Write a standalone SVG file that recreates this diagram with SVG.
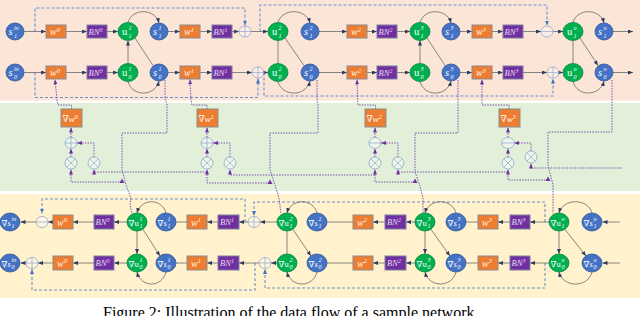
<svg xmlns="http://www.w3.org/2000/svg" width="640" height="316" viewBox="0 0 640 316">
<style>
.s{fill:#4472C4;stroke:#2F5597;stroke-width:0.8}
.u{fill:#00B050;stroke:#00843C;stroke-width:0.8}
.w{fill:#ED7D31;stroke:#8C8C8C;stroke-width:1}
.bn{fill:#7030A0;stroke:#7F7F9F;stroke-width:1}
.op{fill:#FFFFFF;fill-opacity:0.35;stroke:#8FA8D2;stroke-width:0.8}
.opl{stroke:#8FA8D2;stroke-width:0.7;fill:none}
.ln{stroke:#6A6A6A;stroke-width:0.8;fill:none}
.la{stroke:#6A6A6A;stroke-width:0.8;fill:none;marker-end:url(#ah)}
.dash{stroke:#6F8FD3;stroke-width:1.1;stroke-dasharray:3 2;fill:none}
.dasha{stroke:#6F8FD3;stroke-width:1.1;stroke-dasharray:3 2;fill:none;marker-end:url(#ab)}
.dot{stroke:#7B55B3;stroke-width:1;stroke-dasharray:1.5 1.2;fill:none}
.dota{stroke:#7B55B3;stroke-width:1;stroke-dasharray:1.5 1.2;fill:none;marker-end:url(#ap)}
.m{font-family:"Liberation Serif","DejaVu Serif",serif;font-style:italic;font-size:10.5px;fill:#FFFFFF}
.mu{font-family:"Liberation Serif","DejaVu Serif",serif;font-size:10.5px;fill:#FFFFFF}
.sc{font-family:"Liberation Serif","DejaVu Serif",serif;font-style:italic;font-size:6px;fill:#FFFFFF}
.bt{font-family:"Liberation Serif","DejaVu Serif",serif;font-style:italic;font-size:10px;fill:#FFF4E8}
.pt{font-family:"Liberation Serif","DejaVu Serif",serif;font-style:italic;font-size:8.5px;fill:#E6DAF5}
.g{font-family:"Liberation Serif","DejaVu Serif",serif;font-size:8.5px;fill:#FFFFFF}
.gi{font-family:"Liberation Serif","DejaVu Serif",serif;font-style:italic;font-size:9px;fill:#FFFFFF}
.cap{font-family:"Liberation Serif",serif;font-size:16px;fill:#000000}
</style>
<defs>
<marker id="ah" markerUnits="userSpaceOnUse" markerWidth="5" markerHeight="4" refX="5" refY="2" orient="auto"><path d="M0,0 L5,2 L0,4 z" fill="#2E3B5E"/></marker>
<marker id="ab" markerUnits="userSpaceOnUse" markerWidth="5" markerHeight="4" refX="5" refY="2" orient="auto"><path d="M0,0 L5,2 L0,4 z" fill="#4472C4"/></marker>
<marker id="ap" markerUnits="userSpaceOnUse" markerWidth="5" markerHeight="4" refX="5" refY="2" orient="auto"><path d="M0,0 L5,2 L0,4 z" fill="#7030A0"/></marker>
</defs>

<g id="bands">
<rect x="0" y="0" width="640" height="100.5" fill="#FBE5D6"/>
<rect x="0" y="103" width="640" height="88" fill="#E2F0D9"/>
<rect x="0" y="194" width="640" height="104" fill="#FFF2CC"/>
</g>

<g id="connectors">
<path class="dasha" d="M35,31.5 V8 H245 V25.5"/>
<path class="dasha" d="M260,31.5 V5 H547 V25.5"/>
<path class="dasha" d="M35,72.5 V97.5 H258 V78.5"/>
<path class="dasha" d="M264,72.5 V96 H553 V78.5"/>
<path class="dasha" d="M245,222 V199 H42 V213.5"/>
<path class="dasha" d="M545,222 V202 H254 V216"/>
<path class="dasha" d="M255,263 V290 H32 V269"/>
<path class="dasha" d="M545,263 V288 H265 V269"/>

<path class="la" d="M24,31.5 H46"/>
<path class="la" d="M66,31.5 H87"/>
<path class="la" d="M107,31.5 H118"/>
<path class="la" d="M168,31.5 H180"/>
<path class="la" d="M200,31.5 H212"/>
<path class="la" d="M232,31.5 H239"/>
<path class="la" d="M251,31.5 H268"/>
<path class="la" d="M319,31.5 H347"/>
<path class="la" d="M367,31.5 H377"/>
<path class="la" d="M397,31.5 H410"/>
<path class="la" d="M460,31.5 H472"/>
<path class="la" d="M492,31.5 H503"/>
<path class="la" d="M523,31.5 H541"/>
<path class="la" d="M553,31.5 H563"/>
<path class="la" d="M613,31.5 H633"/>
<path class="la" d="M24,72.5 H46"/>
<path class="la" d="M66,72.5 H87"/>
<path class="la" d="M107,72.5 H118"/>
<path class="la" d="M168,72.5 H180"/>
<path class="la" d="M200,72.5 H212"/>
<path class="la" d="M232,72.5 H252"/>
<path class="la" d="M264,72.5 H268"/>
<path class="la" d="M319,72.5 H347"/>
<path class="la" d="M367,72.5 H377"/>
<path class="la" d="M397,72.5 H410"/>
<path class="la" d="M460,72.5 H472"/>
<path class="la" d="M492,72.5 H503"/>
<path class="la" d="M523,72.5 H547"/>
<path class="la" d="M559,72.5 H563"/>
<path class="la" d="M613,72.5 H633"/>
<path class="la" d="M128,22.5 C132,8 155,8 159,23"/>
<path class="la" d="M128,81.5 C132,97 155,97 159,81"/>
<path class="la" d="M128,63.5 V40.5"/>
<path class="ln" d="M153,65.5 L135,38"/>
<path class="la" d="M278,22.5 C282,8 306,8 310,23"/>
<path class="la" d="M278,81.5 C282,97 306,97 310,81"/>
<path class="ln" d="M278,63.5 V40.5"/>
<path class="ln" d="M304,65.5 L285,38"/>
<path class="la" d="M420,22.5 C424,8 447,8 451,23"/>
<path class="la" d="M420,81.5 C424,97 447,97 451,81"/>
<path class="la" d="M420,63.5 V40.5"/>
<path class="ln" d="M445,65.5 L427,38"/>
<path class="la" d="M573,22.5 C577,8 600,8 604,23"/>
<path class="la" d="M573,81.5 C577,97 600,97 604,81"/>
<path class="ln" d="M573,63.5 V40.5"/>
<path class="la" d="M580,38 L598,65.5"/>

<path class="la" d="M620,222 H602.5"/>
<path class="la" d="M549,222 H530"/>
<path class="la" d="M510,222 H498"/>
<path class="ln" d="M478,222 H466"/>
<path class="la" d="M415,222 H406"/>
<path class="la" d="M385,222 H373"/>
<path class="ln" d="M353,222 H327"/>
<path class="la" d="M277,222 H260"/>
<path class="la" d="M248,222 H239"/>
<path class="la" d="M218,222 H207"/>
<path class="ln" d="M187,222 H176"/>
<path class="la" d="M127,222 H114"/>
<path class="la" d="M94,222 H73"/>
<path class="la" d="M53,222 H48"/>
<path class="la" d="M36,222 H20.5"/>
<path class="la" d="M620,263 H602.5"/>
<path class="la" d="M549,263 H530"/>
<path class="la" d="M510,263 H498"/>
<path class="ln" d="M478,263 H466"/>
<path class="la" d="M415,263 H406"/>
<path class="la" d="M385,263 H373"/>
<path class="ln" d="M353,263 H327"/>
<path class="la" d="M277,263 H271"/>
<path class="la" d="M259,263 H239"/>
<path class="la" d="M218,263 H207"/>
<path class="ln" d="M187,263 H176"/>
<path class="la" d="M127,263 H114"/>
<path class="la" d="M94,263 H73"/>
<path class="la" d="M53,263 H38"/>
<path class="la" d="M26,263 H20.5"/>
<path class="la" d="M166,213 C162,198 141,198 137,213"/>
<path class="la" d="M166,272 C162,288 141,288 137,272"/>
<path class="la" d="M137,231 V254"/>
<path class="la" d="M143,229.5 L160,256"/>
<path class="la" d="M317,213 C313,198 291,198 287,213"/>
<path class="la" d="M317,272 C313,288 291,288 287,272"/>
<path class="ln" d="M287,231 V254"/>
<path class="la" d="M293,229.5 L311,256"/>
<path class="la" d="M456,213 C452,198 429,198 425,213"/>
<path class="la" d="M456,272 C452,288 429,288 425,272"/>
<path class="la" d="M425,231 V254"/>
<path class="la" d="M431,229.5 L450,256"/>
<path class="la" d="M592,213 C588,198 563,198 559,213"/>
<path class="la" d="M592,272 C588,288 563,288 559,272"/>
<path class="la" d="M559,231 V254"/>
<path class="la" d="M565,229.5 L586,256"/>

<path class="dota" d="M71.5,109 V105 H58 L57,100 L55,79.5"/>
<path class="dota" d="M207,109 V105 H192 L191,100 L190,79.5"/>
<path class="dota" d="M375.5,109 V105 H358 L357,79.5"/>
<path class="dota" d="M509,109 V105 H482 V79.5"/>
<path class="dot" d="M165,80 V99 L167,104 V133 H122 V170 L127,188 L131,198 L130,205 L132,213.5"/>
<path class="dot" d="M317,80 V99 L318,104 V133 H270 V170 L276,188 L279,198 L281,213.5"/>
<path class="dot" d="M458,80 V133 H415 V172 L420,186 L423,198 L423,213.5"/>
<path class="dot" d="M612,80 V132 H548 V165 L553,185 V213.5"/>
<path class="dota" d="M71,157 V148.5"/>
<path class="dota" d="M94,157 V143 H77"/>
<path class="dota" d="M71,137.5 V127.5"/>
<path class="dota" d="M207,157 V148.5"/>
<path class="dota" d="M230,157 V143 H213"/>
<path class="dota" d="M207,137.5 V127.5"/>
<path class="dota" d="M375,157 V148.5"/>
<path class="dota" d="M398,157 V143 H381"/>
<path class="dota" d="M375,137.5 V127.5"/>
<path class="dota" d="M508,157 V148.5"/>
<path class="dota" d="M531,151 V143 H514"/>
<path class="dota" d="M508,137.5 V127.5"/>
<path class="dota" d="M122,182 H71 V169.5"/>
<path class="dota" d="M207,172 H94 V169.5"/>
<path class="dota" d="M270,183 H207 V169.5"/>
<path class="dota" d="M375,175 H230 V169.5"/>
<path class="dota" d="M415,182 H375 V169.5"/>
<path class="dota" d="M508,172 H398 V169.5"/>
<path class="dota" d="M548,180 H508 V169.5"/>
<path class="dota" d="M622,168 H531 V163.5"/>
<path d="M122,178.5 L124.5,183 L119.5,183 z" fill="#7030A0"/>
<path d="M270,179.5 L272.5,184 L267.5,184 z" fill="#7030A0"/>
<path d="M415,178.5 L417.5,183 L412.5,183 z" fill="#7030A0"/>
<path d="M548,176.5 L550.5,181 L545.5,181 z" fill="#7030A0"/>
</g>

<g id="n-s1in"><ellipse class="s" cx="15" cy="31.5" rx="9" ry="8.5"/><text class="m" x="8.5" y="35">s</text><text class="sc" x="14" y="30">in</text><text class="sc" x="14" y="37.5">1</text></g>
<g id="n-s0in"><ellipse class="s" cx="15" cy="72.5" rx="9" ry="8.5"/><text class="m" x="8.5" y="76">s</text><text class="sc" x="14" y="71">in</text><text class="sc" x="14" y="78.5">0</text></g>
<g id="n-W0-1"><rect class="w" x="46" y="25" width="20" height="13"/><text class="bt" x="50" y="35">w<tspan font-size="6.5" dy="-3.5">0</tspan></text></g>
<g id="n-W0-0"><rect class="w" x="46" y="66" width="20" height="13"/><text class="bt" x="50" y="76">w<tspan font-size="6.5" dy="-3.5">0</tspan></text></g>
<g id="n-BN0-1"><rect class="bn" x="87" y="25" width="20" height="13"/><text class="pt" x="88.5" y="34.5">BN<tspan font-size="6" dy="-3">0</tspan></text></g>
<g id="n-BN0-0"><rect class="bn" x="87" y="66" width="20" height="13"/><text class="pt" x="88.5" y="75.5">BN<tspan font-size="6" dy="-3">0</tspan></text></g>
<g id="n-u11"><ellipse class="u" cx="128" cy="31.5" rx="10" ry="9"/><text class="mu" x="122" y="35">u</text><text class="sc" x="128.5" y="30">1</text><text class="sc" x="128.5" y="37.5">1</text></g>
<g id="n-u01"><ellipse class="u" cx="128" cy="72.5" rx="10" ry="9"/><text class="mu" x="122" y="76">u</text><text class="sc" x="128.5" y="71">1</text><text class="sc" x="128.5" y="78.5">0</text></g>
<g id="n-s11"><ellipse class="s" cx="159" cy="31.5" rx="9" ry="8.5"/><text class="m" x="153" y="35">s</text><text class="sc" x="158.5" y="30">1</text><text class="sc" x="158.5" y="37.5">1</text></g>
<g id="n-s01"><ellipse class="s" cx="159" cy="72.5" rx="9" ry="8.5"/><text class="m" x="153" y="76">s</text><text class="sc" x="158.5" y="71">1</text><text class="sc" x="158.5" y="78.5">0</text></g>
<g id="n-W1-1"><rect class="w" x="180" y="25" width="20" height="13"/><text class="bt" x="184" y="35">w<tspan font-size="6.5" dy="-3.5">1</tspan></text></g>
<g id="n-W1-0"><rect class="w" x="180" y="66" width="20" height="13"/><text class="bt" x="184" y="76">w<tspan font-size="6.5" dy="-3.5">1</tspan></text></g>
<g id="n-BN1-1"><rect class="bn" x="212" y="25" width="20" height="13"/><text class="pt" x="213.5" y="34.5">BN<tspan font-size="6" dy="-3">1</tspan></text></g>
<g id="n-BN1-0"><rect class="bn" x="212" y="66" width="20" height="13"/><text class="pt" x="213.5" y="75.5">BN<tspan font-size="6" dy="-3">1</tspan></text></g>
<g id="n-add1-1"><ellipse class="op" cx="245" cy="31.5" rx="6" ry="5.5"/><path class="opl" d="M239,31.5 H251 M245,26 V37"/></g>
<g id="n-add1-0"><ellipse class="op" cx="258" cy="72.5" rx="6" ry="5.5"/><path class="opl" d="M252,72.5 H264 M258,67 V78"/></g>
<g id="n-u12"><ellipse class="u" cx="278" cy="31.5" rx="10" ry="9"/><text class="mu" x="272" y="35">u</text><text class="sc" x="278.5" y="30">2</text><text class="sc" x="278.5" y="37.5">1</text></g>
<g id="n-u02"><ellipse class="u" cx="278" cy="72.5" rx="10" ry="9"/><text class="mu" x="272" y="76">u</text><text class="sc" x="278.5" y="71">2</text><text class="sc" x="278.5" y="78.5">0</text></g>
<g id="n-s12"><ellipse class="s" cx="310" cy="31.5" rx="9" ry="8.5"/><text class="m" x="304" y="35">s</text><text class="sc" x="309.5" y="30">2</text><text class="sc" x="309.5" y="37.5">1</text></g>
<g id="n-s02"><ellipse class="s" cx="310" cy="72.5" rx="9" ry="8.5"/><text class="m" x="304" y="76">s</text><text class="sc" x="309.5" y="71">2</text><text class="sc" x="309.5" y="78.5">0</text></g>
<g id="n-W2-1"><rect class="w" x="347" y="25" width="20" height="13"/><text class="bt" x="351" y="35">w<tspan font-size="6.5" dy="-3.5">2</tspan></text></g>
<g id="n-W2-0"><rect class="w" x="347" y="66" width="20" height="13"/><text class="bt" x="351" y="76">w<tspan font-size="6.5" dy="-3.5">2</tspan></text></g>
<g id="n-BN2-1"><rect class="bn" x="377" y="25" width="20" height="13"/><text class="pt" x="378.5" y="34.5">BN<tspan font-size="6" dy="-3">2</tspan></text></g>
<g id="n-BN2-0"><rect class="bn" x="377" y="66" width="20" height="13"/><text class="pt" x="378.5" y="75.5">BN<tspan font-size="6" dy="-3">2</tspan></text></g>
<g id="n-u13"><ellipse class="u" cx="420" cy="31.5" rx="10" ry="9"/><text class="mu" x="414" y="35">u</text><text class="sc" x="420.5" y="30">3</text><text class="sc" x="420.5" y="37.5">1</text></g>
<g id="n-u03"><ellipse class="u" cx="420" cy="72.5" rx="10" ry="9"/><text class="mu" x="414" y="76">u</text><text class="sc" x="420.5" y="71">3</text><text class="sc" x="420.5" y="78.5">0</text></g>
<g id="n-s13"><ellipse class="s" cx="451" cy="31.5" rx="9" ry="8.5"/><text class="m" x="445" y="35">s</text><text class="sc" x="450.5" y="30">3</text><text class="sc" x="450.5" y="37.5">1</text></g>
<g id="n-s03"><ellipse class="s" cx="451" cy="72.5" rx="9" ry="8.5"/><text class="m" x="445" y="76">s</text><text class="sc" x="450.5" y="71">3</text><text class="sc" x="450.5" y="78.5">0</text></g>
<g id="n-W3-1"><rect class="w" x="472" y="25" width="20" height="13"/><text class="bt" x="476" y="35">w<tspan font-size="6.5" dy="-3.5">3</tspan></text></g>
<g id="n-W3-0"><rect class="w" x="472" y="66" width="20" height="13"/><text class="bt" x="476" y="76">w<tspan font-size="6.5" dy="-3.5">3</tspan></text></g>
<g id="n-BN3-1"><rect class="bn" x="503" y="25" width="20" height="13"/><text class="pt" x="504.5" y="34.5">BN<tspan font-size="6" dy="-3">3</tspan></text></g>
<g id="n-BN3-0"><rect class="bn" x="503" y="66" width="20" height="13"/><text class="pt" x="504.5" y="75.5">BN<tspan font-size="6" dy="-3">3</tspan></text></g>
<g id="n-add2-1"><ellipse class="op" cx="547" cy="31.5" rx="6" ry="5.5"/><path class="opl" d="M541,31.5 H553"/></g>
<g id="n-add2-0"><ellipse class="op" cx="553" cy="72.5" rx="6" ry="5.5"/><path class="opl" d="M547,72.5 H559 M553,67 V78"/></g>
<g id="n-u1o"><ellipse class="u" cx="573" cy="31.5" rx="10" ry="9"/><text class="mu" x="567" y="35">u</text><text class="sc" x="573.5" y="30">o</text><text class="sc" x="573.5" y="37.5">1</text></g>
<g id="n-u0o"><ellipse class="u" cx="573" cy="72.5" rx="10" ry="9"/><text class="mu" x="567" y="76">u</text><text class="sc" x="573.5" y="71">o</text><text class="sc" x="573.5" y="78.5">0</text></g>
<g id="n-s1o"><ellipse class="s" cx="604" cy="31.5" rx="9" ry="8.5"/><text class="m" x="598" y="35">s</text><text class="sc" x="603.5" y="30">o</text><text class="sc" x="603.5" y="37.5">1</text></g>
<g id="n-s0o"><ellipse class="s" cx="604" cy="72.5" rx="9" ry="8.5"/><text class="m" x="598" y="76">s</text><text class="sc" x="603.5" y="71">o</text><text class="sc" x="603.5" y="78.5">0</text></g>

<g id="n-gw0"><rect class="w" x="61" y="109" width="21" height="18"/><text class="gi" x="62.5" y="121.5">∇w<tspan font-size="6" dy="-3">0</tspan></text></g>
<g id="n-gw1"><rect class="w" x="197" y="109" width="21" height="18"/><text class="gi" x="198.5" y="121.5">∇w<tspan font-size="6" dy="-3">1</tspan></text></g>
<g id="n-gw2"><rect class="w" x="365" y="109" width="21" height="18"/><text class="gi" x="366.5" y="121.5">∇w<tspan font-size="6" dy="-3">2</tspan></text></g>
<g id="n-gw3"><rect class="w" x="499" y="109" width="21" height="18"/><text class="gi" x="500.5" y="121.5">∇w<tspan font-size="6" dy="-3">3</tspan></text></g>
<g id="n-gadd0"><ellipse class="op" cx="71" cy="143" rx="6" ry="5.5"/><path class="opl" d="M65,143 H77 M71,137.5 V148.5"/></g>
<g id="n-gadd1"><ellipse class="op" cx="207" cy="143" rx="6" ry="5.5"/><path class="opl" d="M201,143 H213 M207,137.5 V148.5"/></g>
<g id="n-gadd2"><ellipse class="op" cx="375" cy="143" rx="6" ry="5.5"/><path class="opl" d="M369,143 H381"/></g>
<g id="n-gadd3"><ellipse class="op" cx="508" cy="143" rx="6.5" ry="5.5"/><path class="opl" d="M501.5,143 H514.5"/></g>
<g id="n-gm0a"><ellipse class="op" cx="71" cy="163" rx="6" ry="6"/><path class="opl" d="M66.8,158.8 L75.2,167.2 M75.2,158.8 L66.8,167.2"/></g>
<g id="n-gm0b"><ellipse class="op" cx="94" cy="163" rx="6" ry="6"/><path class="opl" d="M89.8,158.8 L98.2,167.2 M98.2,158.8 L89.8,167.2"/></g>
<g id="n-gm1a"><ellipse class="op" cx="207" cy="163" rx="6" ry="6"/><path class="opl" d="M202.8,158.8 L211.2,167.2 M211.2,158.8 L202.8,167.2"/></g>
<g id="n-gm1b"><ellipse class="op" cx="230" cy="163" rx="6" ry="6"/><path class="opl" d="M225.8,158.8 L234.2,167.2 M234.2,158.8 L225.8,167.2"/></g>
<g id="n-gm2a"><ellipse class="op" cx="375" cy="163" rx="6" ry="6"/><path class="opl" d="M370.8,158.8 L379.2,167.2 M379.2,158.8 L370.8,167.2"/></g>
<g id="n-gm2b"><ellipse class="op" cx="398" cy="163" rx="6" ry="6"/><path class="opl" d="M393.8,158.8 L402.2,167.2 M402.2,158.8 L393.8,167.2"/></g>
<g id="n-gm3a"><ellipse class="op" cx="508" cy="163" rx="6" ry="6"/><path class="opl" d="M503.8,158.8 L512.2,167.2 M512.2,158.8 L503.8,167.2"/></g>
<g id="n-gm3b"><ellipse class="op" cx="531" cy="157" rx="6" ry="6"/><path class="opl" d="M526.8,152.8 L535.2,161.2 M535.2,152.8 L526.8,161.2"/></g>

<g id="n-gs1in"><ellipse class="s" cx="10" cy="222" rx="10" ry="9"/><text class="g" x="1.5" y="225.5">∇<tspan font-style="italic">s</tspan></text><text class="sc" x="11.5" y="220.5">in</text><text class="sc" x="11.5" y="228">1</text></g>
<g id="n-gs0in"><ellipse class="s" cx="10" cy="263" rx="10" ry="9"/><text class="g" x="1.5" y="266.5">∇<tspan font-style="italic">s</tspan></text><text class="sc" x="11.5" y="261.5">in</text><text class="sc" x="11.5" y="269">0</text></g>
<g id="n-badd0-1"><ellipse class="op" cx="42" cy="222" rx="6" ry="5.5"/><path class="opl" d="M36,222 H48"/></g>
<g id="n-badd0-0"><ellipse class="op" cx="32" cy="263" rx="6" ry="5.5"/><path class="opl" d="M26,263 H38 M32,257.5 V268.5"/></g>
<g id="n-bW0-1"><rect class="w" x="53" y="215" width="20" height="14"/><text class="bt" x="57" y="225.5">w<tspan font-size="6.5" dy="-3.5">0</tspan></text></g>
<g id="n-bW0-0"><rect class="w" x="53" y="256" width="20" height="14"/><text class="bt" x="57" y="266.5">w<tspan font-size="6.5" dy="-3.5">0</tspan></text></g>
<g id="n-bBN0-1"><rect class="bn" x="94" y="215" width="20" height="14"/><text class="pt" x="95.5" y="225">BN<tspan font-size="6" dy="-3">0</tspan></text></g>
<g id="n-bBN0-0"><rect class="bn" x="94" y="256" width="20" height="14"/><text class="pt" x="95.5" y="266">BN<tspan font-size="6" dy="-3">0</tspan></text></g>
<g id="n-gu11"><ellipse class="u" cx="137" cy="222" rx="10" ry="9"/><text class="g" x="128.5" y="225.5">∇u</text><text class="sc" x="139.5" y="220.5">1</text><text class="sc" x="139.5" y="228">1</text></g>
<g id="n-gu01"><ellipse class="u" cx="137" cy="263" rx="10" ry="9"/><text class="g" x="128.5" y="266.5">∇u</text><text class="sc" x="139.5" y="261.5">1</text><text class="sc" x="139.5" y="269">0</text></g>
<g id="n-gs11"><ellipse class="s" cx="166" cy="222" rx="10" ry="9"/><text class="g" x="157.5" y="225.5">∇<tspan font-style="italic">s</tspan></text><text class="sc" x="167.5" y="220.5">1</text><text class="sc" x="167.5" y="228">1</text></g>
<g id="n-gs01"><ellipse class="s" cx="166" cy="263" rx="10" ry="9"/><text class="g" x="157.5" y="266.5">∇<tspan font-style="italic">s</tspan></text><text class="sc" x="167.5" y="261.5">1</text><text class="sc" x="167.5" y="269">0</text></g>
<g id="n-bW1-1"><rect class="w" x="187" y="215" width="20" height="14"/><text class="bt" x="191" y="225.5">w<tspan font-size="6.5" dy="-3.5">1</tspan></text></g>
<g id="n-bW1-0"><rect class="w" x="187" y="256" width="20" height="14"/><text class="bt" x="191" y="266.5">w<tspan font-size="6.5" dy="-3.5">1</tspan></text></g>
<g id="n-bBN1-1"><rect class="bn" x="218" y="215" width="21" height="14"/><text class="pt" x="220" y="225">BN<tspan font-size="6" dy="-3">1</tspan></text></g>
<g id="n-bBN1-0"><rect class="bn" x="218" y="256" width="21" height="14"/><text class="pt" x="220" y="266">BN<tspan font-size="6" dy="-3">1</tspan></text></g>
<g id="n-badd1-1"><ellipse class="op" cx="254" cy="222" rx="6" ry="5.5"/><path class="opl" d="M248,222 H260 M254,216.5 V227.5"/></g>
<g id="n-badd1-0"><ellipse class="op" cx="265" cy="263" rx="6" ry="5.5"/><path class="opl" d="M259,263 H271 M265,257.5 V268.5"/></g>
<g id="n-gu12"><ellipse class="u" cx="287" cy="222" rx="10" ry="9"/><text class="g" x="278.5" y="225.5">∇u</text><text class="sc" x="289.5" y="220.5">2</text><text class="sc" x="289.5" y="228">1</text></g>
<g id="n-gu02"><ellipse class="u" cx="287" cy="263" rx="10" ry="9"/><text class="g" x="278.5" y="266.5">∇u</text><text class="sc" x="289.5" y="261.5">2</text><text class="sc" x="289.5" y="269">0</text></g>
<g id="n-gs12"><ellipse class="s" cx="317" cy="222" rx="10" ry="9"/><text class="g" x="308.5" y="225.5">∇<tspan font-style="italic">s</tspan></text><text class="sc" x="318.5" y="220.5">2</text><text class="sc" x="318.5" y="228">1</text></g>
<g id="n-gs02"><ellipse class="s" cx="317" cy="263" rx="10" ry="9"/><text class="g" x="308.5" y="266.5">∇<tspan font-style="italic">s</tspan></text><text class="sc" x="318.5" y="261.5">2</text><text class="sc" x="318.5" y="269">0</text></g>
<g id="n-bW2-1"><rect class="w" x="353" y="215" width="20" height="14"/><text class="bt" x="357" y="225.5">w<tspan font-size="6.5" dy="-3.5">2</tspan></text></g>
<g id="n-bW2-0"><rect class="w" x="353" y="256" width="20" height="14"/><text class="bt" x="357" y="266.5">w<tspan font-size="6.5" dy="-3.5">2</tspan></text></g>
<g id="n-bBN2-1"><rect class="bn" x="385" y="215" width="21" height="14"/><text class="pt" x="387" y="225">BN<tspan font-size="6" dy="-3">2</tspan></text></g>
<g id="n-bBN2-0"><rect class="bn" x="385" y="256" width="21" height="14"/><text class="pt" x="387" y="266">BN<tspan font-size="6" dy="-3">2</tspan></text></g>
<g id="n-gu13"><ellipse class="u" cx="425" cy="222" rx="10" ry="9"/><text class="g" x="416.5" y="225.5">∇u</text><text class="sc" x="427.5" y="220.5">3</text><text class="sc" x="427.5" y="228">1</text></g>
<g id="n-gu03"><ellipse class="u" cx="425" cy="263" rx="10" ry="9"/><text class="g" x="416.5" y="266.5">∇u</text><text class="sc" x="427.5" y="261.5">3</text><text class="sc" x="427.5" y="269">0</text></g>
<g id="n-gs13"><ellipse class="s" cx="456" cy="222" rx="10" ry="9"/><text class="g" x="447.5" y="225.5">∇<tspan font-style="italic">s</tspan></text><text class="sc" x="457.5" y="220.5">3</text><text class="sc" x="457.5" y="228">1</text></g>
<g id="n-gs03"><ellipse class="s" cx="456" cy="263" rx="10" ry="9"/><text class="g" x="447.5" y="266.5">∇<tspan font-style="italic">s</tspan></text><text class="sc" x="457.5" y="261.5">3</text><text class="sc" x="457.5" y="269">0</text></g>
<g id="n-bW3-1"><rect class="w" x="478" y="215" width="20" height="14"/><text class="bt" x="482" y="225.5">w<tspan font-size="6.5" dy="-3.5">3</tspan></text></g>
<g id="n-bW3-0"><rect class="w" x="478" y="256" width="20" height="14"/><text class="bt" x="482" y="266.5">w<tspan font-size="6.5" dy="-3.5">3</tspan></text></g>
<g id="n-bBN3-1"><rect class="bn" x="510" y="215" width="20" height="14"/><text class="pt" x="511.5" y="225">BN<tspan font-size="6" dy="-3">3</tspan></text></g>
<g id="n-bBN3-0"><rect class="bn" x="510" y="256" width="20" height="14"/><text class="pt" x="511.5" y="266">BN<tspan font-size="6" dy="-3">3</tspan></text></g>
<g id="n-gu1o"><ellipse class="u" cx="559" cy="222" rx="10" ry="9"/><text class="g" x="550.5" y="225.5">∇u</text><text class="sc" x="561.5" y="220.5">o</text><text class="sc" x="561.5" y="228">1</text></g>
<g id="n-gu0o"><ellipse class="u" cx="559" cy="263" rx="10" ry="9"/><text class="g" x="550.5" y="266.5">∇u</text><text class="sc" x="561.5" y="261.5">o</text><text class="sc" x="561.5" y="269">0</text></g>
<g id="n-gs1o"><ellipse class="s" cx="592" cy="222" rx="10" ry="9"/><text class="g" x="583.5" y="225.5">∇<tspan font-style="italic">s</tspan></text><text class="sc" x="593.5" y="220.5">o</text><text class="sc" x="593.5" y="228">1</text></g>
<g id="n-gs0o"><ellipse class="s" cx="592" cy="263" rx="10" ry="9"/><text class="g" x="583.5" y="266.5">∇<tspan font-style="italic">s</tspan></text><text class="sc" x="593.5" y="261.5">o</text><text class="sc" x="593.5" y="269">0</text></g>

<text class="cap" x="103" y="318">Figure 2: Illustration of the data flow of a sample network.</text>
</svg>
